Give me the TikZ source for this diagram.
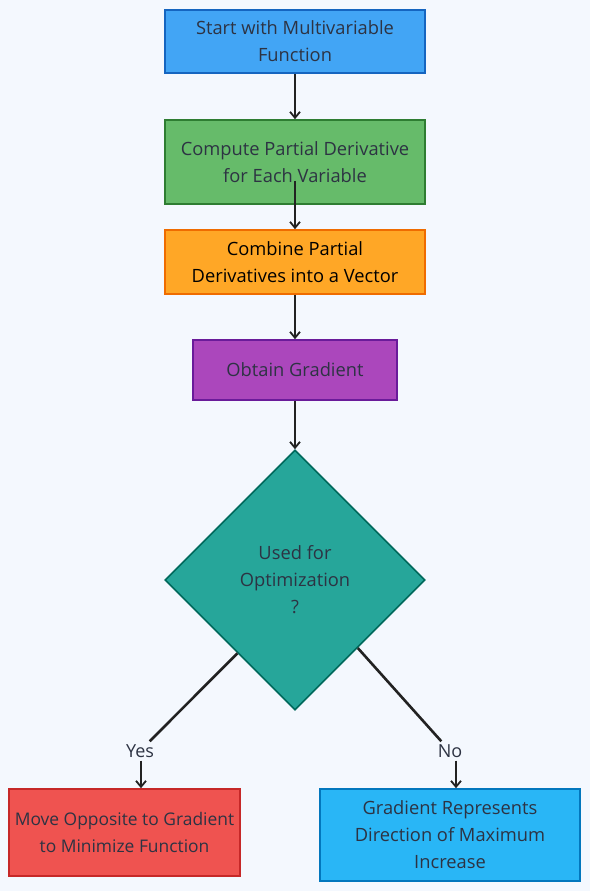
\documentclass[tikz,border=0pt]{standalone}
\usepackage{fontspec}
\setmainfont{Open Sans}
\usetikzlibrary{shapes.geometric,arrows.meta,calc}
\definecolor{bg}{HTML}{F4F8FE}
\definecolor{txt}{HTML}{2D3343}
\definecolor{blueF}{HTML}{42A5F5}\definecolor{blueD}{HTML}{1565C0}
\definecolor{greenF}{HTML}{66BB6A}\definecolor{greenD}{HTML}{2E7D32}
\definecolor{orangeF}{HTML}{FFA726}\definecolor{orangeD}{HTML}{EF6C00}
\definecolor{purpleF}{HTML}{AB47BC}\definecolor{purpleD}{HTML}{6A1B9A}
\definecolor{tealF}{HTML}{26A69A}\definecolor{tealD}{HTML}{00695C}
\definecolor{redF}{HTML}{EF5350}\definecolor{redD}{HTML}{C62828}
\definecolor{skyF}{HTML}{29B6F6}\definecolor{skyD}{HTML}{0277BD}
\definecolor{arrowc}{HTML}{222222}
\tikzset{
  boxnode/.style={rectangle, line width=1.6pt, inner sep=2pt, align=center,
    text=txt, font=\fontsize{18.3}{27}\selectfont},
  decnode/.style={diamond, aspect=1, line width=1.6pt, inner sep=0pt, align=center,
    text=txt, font=\fontsize{18.3}{27}\selectfont, minimum size=260pt},
  lbl/.style={fill=bg, text=txt, inner sep=3pt, font=\fontsize{18}{20}\selectfont},
  arr/.style={draw=arrowc, line width=2.1pt, -{Straight Barb[length=6pt,width=10pt,line width=1.8pt]}},
  seg/.style={draw=arrowc, line width=2.6pt}
}
\begin{document}
\begin{tikzpicture}[x=1pt,y=-1pt]
\fill[bg] (0,0) rectangle (590,891);
\useasboundingbox (0,0) rectangle (590,891);

\node[boxnode, fill=blueF, draw=blueD, minimum width=260pt, minimum height=63pt] (start) at (295,41.5) {Start with Multivariable\\Function};
\node[boxnode, fill=greenF, draw=greenD, minimum width=260pt, minimum height=84pt] (compute) at (295,162) {Compute Partial Derivative\\for Each Variable};
\node[boxnode, fill=orangeF, draw=orangeD, text=black, minimum width=260pt, minimum height=64pt] (combine) at (295,262) {Combine Partial\\Derivatives into a Vector};
\node[boxnode, fill=purpleF, draw=purpleD, minimum width=204pt, minimum height=60pt] (obtain) at (295,370) {Obtain Gradient};
\node[decnode, fill=tealF, draw=tealD] (dec) at (295,580) {Used for\\Optimization\\?};
\node[boxnode, fill=redF, draw=redD, minimum width=231pt, minimum height=87pt, font=\fontsize{17.4}{27}\selectfont] (move) at (124.5,832.5) {Move Opposite to Gradient\\to Minimize Function};
\node[boxnode, fill=skyF, draw=skyD, minimum width=260pt, minimum height=92pt] (grad) at (450,835) {Gradient Represents\\Direction of Maximum\\Increase};

\node[lbl] (yes) at (140,751) {Yes};
\node[lbl] (no) at (450,751) {No};

\draw[arr] (start) -- (compute);
\draw[arr] ($(compute.south)+(0,-24)$) -- (combine.north);
\draw[arr] (combine) -- (obtain);
\draw[arr] (obtain) -- (dec.north);
\draw[seg] ($(dec.west)!0.56!(dec.south)$) -- (yes);
\draw[arr] (yes.south) ++(1,0) coordinate (yesstart) -- (yesstart |- move.north);
\draw[seg] ($(dec.east)!0.52!(dec.south)$) -- (no);
\draw[arr] (no.south) ++(6,0) coordinate (nostart) -- (nostart |- grad.north);
\end{tikzpicture}
\end{document}
